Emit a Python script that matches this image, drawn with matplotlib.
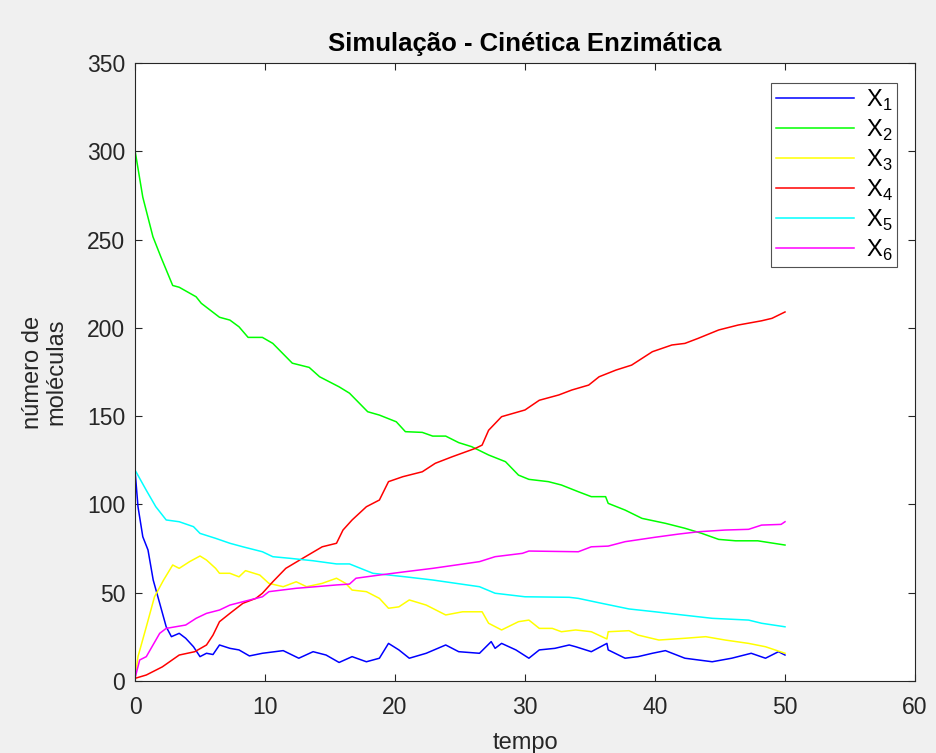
import matplotlib
matplotlib.use("Agg")
import matplotlib.pyplot as plt

plt.rcParams['font.family'] = ['Liberation Sans', 'DejaVu Sans']
plt.rcParams['mathtext.fontset'] = 'custom'
plt.rcParams['mathtext.rm'] = 'Liberation Sans'

# (tempo, valor)
x1_t = [0, 0.23, 0.6, 1.0, 1.4, 1.9, 2.4, 2.8, 3.4, 3.9, 4.5, 5.0, 5.5, 6.0, 6.5, 7.3, 8.0, 8.8, 9.8, 11.4, 12.6, 13.7, 14.7, 15.7, 16.7, 17.8, 18.8, 19.5, 20.3, 21.1, 22.4, 23.9, 24.9, 26.5, 27.4, 27.7, 28.2, 29.3, 30.3, 31.1, 32.3, 33.4, 33.9, 35.1, 36.3, 36.4, 37.7, 38.7, 39.8, 40.8, 42.3, 44.4, 45.9, 47.4, 48.5, 49.5, 50]
x1_v = [119.5, 98.7, 81.7, 74.2, 57.2, 44, 30.7, 25.1, 27, 24.2, 19.4, 13.8, 15.7, 15, 20.4, 18.5, 17.6, 14.2, 15.7, 17.2, 12.9, 16.6, 14.7, 10.5, 13.8, 10.9, 12.9, 21.3, 17.6, 12.9, 15.7, 20.4, 16.6, 15.7, 22.3, 18.5, 21.3, 17.6, 12.9, 17.6, 18.5, 20.4, 19.4, 16.6, 21.3, 17.6, 12.9, 13.8, 15.7, 17.2, 12.9, 10.9, 12.9, 15.7, 12.9, 16.6, 14.7]

x2_t = [0, 0.6, 1.38, 2.0, 2.9, 3.4, 4.7, 5.1, 6.5, 7.3, 8.0, 8.7, 9.8, 10.6, 12.1, 13.4, 14.2, 15.7, 16.5, 17.9, 18.8, 20.1, 20.8, 22.1, 22.9, 23.9, 24.9, 25.9, 27.2, 28.5, 29.5, 30.3, 31.8, 32.8, 34.1, 35.1, 36.2, 36.4, 37.7, 39.0, 40.8, 42.3, 43.6, 44.9, 46.2, 47.9, 50]
x2_v = [300.5, 274, 251.6, 240, 224, 223, 217.6, 213.9, 206, 204.4, 200.6, 194.6, 194.6, 191.2, 180, 177.6, 172.3, 166.6, 163, 152.5, 150.6, 146.8, 141.2, 140.8, 138.7, 138.7, 135, 132.7, 128, 124.2, 116.6, 114.2, 112.9, 111, 107.2, 104.4, 104.4, 100.6, 96.8, 92.1, 89.3, 86.5, 83.6, 80.2, 79.4, 79.4, 77]

x3_t = [0, 0.23, 0.87, 1.5, 2.2, 2.9, 3.4, 4.2, 5.0, 5.5, 6.2, 6.5, 7.3, 8.0, 8.5, 9.6, 10.3, 11.4, 12.4, 13.2, 14.4, 15.5, 16.2, 16.7, 17.8, 18.8, 19.5, 20.3, 21.1, 22.4, 23.9, 25.2, 26.7, 27.2, 28.2, 29.5, 30.3, 31.1, 32.1, 32.8, 33.9, 35.1, 36.3, 36.4, 38.0, 38.7, 40.3, 42.3, 43.9, 45.4, 47.2, 48.5, 50]
x3_v = [1.5, 13.8, 30.7, 47.7, 57.2, 65.7, 63.8, 67.6, 70.8, 68.5, 63.8, 61, 61, 59, 62.5, 60, 55.3, 53.4, 56.2, 53.4, 55.3, 58.2, 55.3, 51.5, 50.6, 46.8, 41.2, 42, 45.9, 43, 37.4, 39.2, 39.2, 32.7, 28.9, 33.6, 34.5, 29.8, 29.8, 27.9, 28.9, 27.9, 23.8, 27.9, 28.5, 26, 23.2, 24.2, 25.1, 23.2, 21.3, 19.4, 15.7]

x4_t = [0, 0.87, 2.1, 3.4, 4.6, 5.5, 6.0, 6.5, 7.3, 8.3, 9.3, 9.8, 10.6, 11.6, 12.9, 14.4, 15.5, 16.0, 16.7, 17.8, 18.8, 19.5, 20.6, 22.1, 23.1, 24.4, 26.2, 26.7, 27.2, 28.2, 30.0, 31.1, 32.6, 33.6, 34.9, 35.7, 37.0, 38.2, 39.8, 41.3, 42.3, 43.3, 44.9, 46.4, 48.2, 49.0, 50]
x4_v = [1.5, 3.4, 8, 14.7, 16.6, 20.4, 26, 33.6, 38.3, 44, 46.8, 49.7, 56.2, 63.8, 69.5, 76, 78, 85.5, 91.2, 98.7, 102.5, 112.9, 115.7, 118.5, 123.3, 127, 131.8, 133.6, 142, 149.7, 153.5, 159, 162, 164.8, 167.6, 172.3, 176.1, 178.9, 186.5, 190.3, 191.2, 194, 198.8, 201.6, 204, 205.4, 209]

x5_t = [0, 0.87, 1.6, 2.4, 3.4, 4.5, 5.0, 6.2, 7.3, 8.3, 9.8, 10.6, 11.9, 13.7, 15.5, 16.5, 18.3, 20.8, 22.9, 24.7, 26.5, 27.7, 30.0, 33.4, 34.1, 35.7, 38.0, 40.0, 42.1, 44.4, 47.2, 48.2, 50]
x5_v = [119.5, 108, 98.7, 91.2, 90.2, 87.4, 83.6, 80.8, 78, 76, 73.2, 70.4, 69.5, 68.1, 66.3, 66.3, 61, 59, 57.2, 55.3, 53.4, 49.7, 47.7, 47.4, 46.8, 44.3, 40.8, 39.2, 37.4, 35.5, 34.5, 32.7, 30.7]

x6_t = [0, 0.36, 0.87, 1.9, 2.4, 3.9, 4.7, 5.5, 6.5, 7.3, 8.3, 9.8, 10.3, 12.4, 13.9, 15.5, 16.5, 17.0, 18.8, 20.8, 22.9, 24.7, 26.5, 27.7, 29.8, 30.3, 34.1, 35.1, 36.4, 37.7, 40.0, 41.8, 43.3, 45.4, 47.2, 48.2, 49.7, 50]
x6_v = [1.5, 11.9, 13.8, 27, 29.8, 31.7, 35.5, 38.3, 40.2, 43, 44.9, 47.7, 50.6, 52.5, 53.4, 54.4, 54.9, 58.2, 60, 61.9, 63.8, 65.7, 67.6, 70.4, 72.3, 73.6, 73.2, 76, 76.4, 78.9, 81.4, 83.2, 84.5, 85.5, 85.9, 88.3, 88.7, 90.2]

series_labels = [r'X$_1$', r'X$_2$', r'X$_3$', r'X$_4$', r'X$_5$', r'X$_6$']
series_colors = ['#0000ff', '#00ff00', '#ffff00', '#ff0000', '#00ffff', '#ff00ff']
xticks = [0, 10, 20, 30, 40, 50, 60]
yticks = [0, 50, 100, 150, 200, 250, 300, 350]

W, H = 937, 753
fig = plt.figure(figsize=(W / 100, H / 100), dpi=100, facecolor='#f0f0f0')
ax = fig.add_axes([135 / W, 1 - 681 / H, 780 / W, 618 / H])
ax.set_facecolor('white')

data = [(x1_t, x1_v), (x2_t, x2_v), (x3_t, x3_v), (x4_t, x4_v), (x5_t, x5_v), (x6_t, x6_v)]
for (t, v), lab, col in zip(data, series_labels, series_colors):
    ax.plot(t, v, color=col, lw=1.1, label=lab)

ax.set_xlim(0, 60)
ax.set_ylim(0, 350)
ax.set_xticks(xticks)
ax.set_yticks(yticks)
ax.tick_params(direction='in', length=5, width=0.8, top=True, right=True,
               labelsize=16.5, colors='#262626')
ax.tick_params(axis='x', pad=11)
ax.tick_params(axis='y', pad=7)
for s in ax.spines.values():
    s.set_color('#262626')
    s.set_linewidth(0.8)

ax.set_title('Simulação - Cinética Enzimática', fontsize=18.5, fontweight='bold', pad=9)
ax.set_xlabel('tempo', fontsize=17, color='#262626', labelpad=9)
ax.set_ylabel('número de\nmoléculas', fontsize=17, color='#262626', labelpad=14,
              linespacing=1.1)

leg = ax.legend(loc='upper right', fontsize=17,
                frameon=True, fancybox=False, edgecolor='#262626', handlelength=3.3,
                labelspacing=0.2, borderpad=0.2, handletextpad=0.5, borderaxespad=0,
                bbox_to_anchor=(897 / W, 1 - 83 / H), bbox_transform=fig.transFigure)
leg.get_frame().set_linewidth(0.8)

fig.savefig('out.png', dpi=100, facecolor=fig.get_facecolor())
